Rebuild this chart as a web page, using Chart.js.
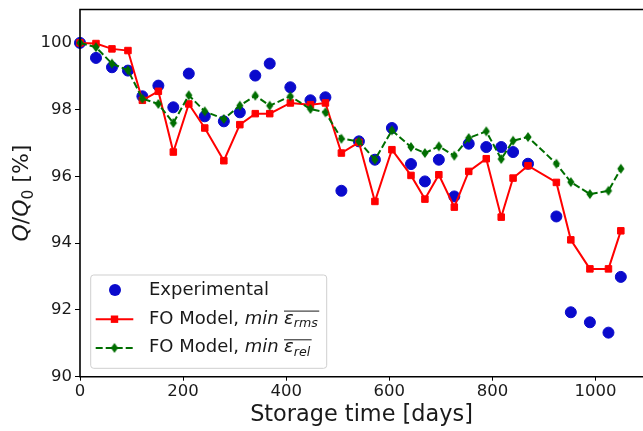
<!DOCTYPE html>
<html>
<head>
<meta charset="utf-8">
<title>Q/Q0 vs storage time</title>
<script src="https://cdn.jsdelivr.net/npm/chart.js@4.4.1/dist/chart.umd.min.js"></script>
<style>
    html, body { margin: 0; padding: 0; background: #fff; }
    #chart { display: block; }
</style>
</head>
<body>
<canvas id="chart" width="643" height="431"></canvas>
<script>
// storage days (same sampling for measurements and both model fits)
const storageDays = [0, 31, 62, 93, 121, 152, 181, 211, 242, 279, 310, 340, 368, 408, 447, 476, 507,
    541, 572, 605, 642, 669, 696, 726, 754, 788, 817, 840, 869, 924, 952, 989, 1025, 1049];

// Q/Q0 in %
const experimental = [100.0, 99.55, 99.27, 99.17, 98.40, 98.72, 98.07, 99.08, 97.80, 97.65, 97.92, 99.02,
    99.38, 98.67, 98.28, 98.37, 95.57, 97.05, 96.50, 97.45, 96.37, 95.85, 96.50, 95.40, 96.98, 96.88,
    96.88, 96.73, 96.38, 94.80, 91.93, 91.63, 91.32, 92.99];
const foModelRms = [100.0, 99.98, 99.82, 99.77, 98.28, 98.55, 96.73, 98.17, 97.45, 96.47, 97.55, 97.88,
    97.88, 98.20, 98.15, 98.20, 96.70, 97.02, 95.25, 96.80, 96.03, 95.32, 96.05, 95.08, 96.15, 96.53,
    94.78, 95.95, 96.32, 95.82, 94.10, 93.23, 93.23, 94.37];
const foModelRel = [100.0, 99.87, 99.38, 99.18, 98.33, 98.17, 97.60, 98.43, 97.95, 97.72, 98.12, 98.42,
    98.12, 98.40, 98.02, 97.92, 97.13, 97.05, 96.50, 97.38, 96.88, 96.70, 96.90, 96.62, 97.15, 97.35,
    96.52, 97.07, 97.18, 96.38, 95.83, 95.47, 95.57, 96.23];

const xTicks = [0, 200, 400, 600, 800, 1000];
const yTicks = [90, 92, 94, 96, 98, 100];

const FONT = '"DejaVu Sans", sans-serif';
const TEXT = '#1a1a1a';
const BLUE = '#0a0acc';
const RED = '#ff0000';
const GREEN = '#006e00';

function toPoints(ys) {
    return storageDays.map((d, i) => ({ x: d, y: ys[i] }));
}

// thin diamond marker (matplotlib 'd')
function thinDiamond(color) {
    const c = document.createElement('canvas');
    c.width = 10; c.height = 12;
    const g = c.getContext('2d');
    g.fillStyle = color;
    g.beginPath();
    g.moveTo(5, 1); g.lineTo(8.6, 6); g.lineTo(5, 11); g.lineTo(1.4, 6);
    g.closePath();
    g.fill();
    return c;
}
const diamond = thinDiamond(GREEN);

// draws a list of text runs left to right, returns the end x
function drawRuns(ctx, x, y, runs) {
    runs.forEach(r => {
        ctx.font = r.font;
        if (r.at != null) x = r.at;
        ctx.fillText(r.t, x, y + (r.dy || 0));
        r.x0 = x;
        x += ctx.measureText(r.t).width;
        r.x1 = x;
    });
    return x;
}
function runsWidth(ctx, runs) {
    let w = 0;
    runs.forEach(r => { ctx.font = r.font; w += ctx.measureText(r.t).width; });
    return w;
}

const reg = s => `${s}px ${FONT}`;
const ita = s => `italic ${s}px ${FONT}`;

function legendLabel(ctx, x, baseline, sub) {
    const runs = [
        { t: 'FO Model, ', font: reg(18) },
        { t: 'min', font: ita(18) },
        { t: 'ε', font: ita(18), at: x + 135 },
        { t: sub, font: ita(12.6), dy: 3.5 }
    ];
    drawRuns(ctx, x, baseline, runs);
    // overline above epsilon + subscript
    ctx.beginPath();
    ctx.lineWidth = 1;
    ctx.moveTo(runs[2].x0, baseline - 12.6);
    ctx.lineTo(runs[3].x1 + 1.5, baseline - 12.6);
    ctx.stroke();
}

const decorations = {
    id: 'decorations',
    afterDatasetsDraw(chart) {
        const { ctx, chartArea: a } = chart;
        ctx.save();
        // axes frame (right side falls outside the canvas)
        ctx.strokeStyle = '#000';
        ctx.lineWidth = 1.6;
        ctx.beginPath();
        ctx.moveTo(a.right + 2, a.top);
        ctx.lineTo(a.left, a.top);
        ctx.lineTo(a.left, a.bottom);
        ctx.lineTo(a.right + 2, a.bottom);
        ctx.stroke();
        ctx.restore();
    },
    afterDraw(chart) {
        const { ctx, chartArea: a } = chart;
        ctx.save();
        ctx.fillStyle = TEXT;
        ctx.strokeStyle = TEXT;
        ctx.textBaseline = 'alphabetic';

        // y axis title, rotated
        const yRuns = [
            { t: 'Q', font: ita(22) },
            { t: '/', font: reg(22) },
            { t: 'Q', font: ita(22) },
            { t: '0', font: reg(15.5), dy: 4.5 },
            { t: ' [%]', font: reg(22) }
        ];
        ctx.save();
        ctx.translate(28, (a.top + a.bottom) / 2);
        ctx.rotate(-Math.PI / 2);
        drawRuns(ctx, -runsWidth(ctx, yRuns) / 2, 0, yRuns);
        ctx.restore();

        // legend box
        const bx = 90.7, by = 275, bw = 236, bh = 93.3;
        ctx.beginPath();
        ctx.roundRect(bx, by, bw, bh, 3);
        ctx.fillStyle = 'rgba(255,255,255,0.8)';
        ctx.fill();
        ctx.strokeStyle = '#cfcfcf';
        ctx.lineWidth = 1;
        ctx.stroke();

        const rows = [295, 323.7, 352.4];
        const sx0 = 95.7, sx1 = 133.3, mx = 114.5, tx = 149;

        // Experimental
        ctx.fillStyle = BLUE;
        ctx.beginPath();
        ctx.arc(mx + 0.5, rows[0] - 5, 6, 0, Math.PI * 2);
        ctx.fill();

        // FO model, min rms
        ctx.strokeStyle = RED;
        ctx.lineWidth = 2;
        ctx.beginPath();
        ctx.moveTo(sx0, rows[1] - 4.5);
        ctx.lineTo(sx1, rows[1] - 4.5);
        ctx.stroke();
        ctx.fillStyle = RED;
        ctx.fillRect(mx - 3.7, rows[1] - 4.5 - 3.7, 7.4, 7.4);

        // FO model, min rel
        ctx.strokeStyle = GREEN;
        ctx.setLineDash([7, 3]);
        ctx.beginPath();
        ctx.moveTo(sx0, rows[2] - 4.5);
        ctx.lineTo(sx1, rows[2] - 4.5);
        ctx.stroke();
        ctx.setLineDash([]);
        ctx.drawImage(diamond, mx - 5, rows[2] - 4.5 - 6);

        ctx.fillStyle = TEXT;
        ctx.strokeStyle = TEXT;
        ctx.font = reg(18);
        ctx.fillText('Experimental', tx, rows[0]);
        legendLabel(ctx, tx, rows[1], 'rms');
        legendLabel(ctx, tx, rows[2], 'rel');
        ctx.restore();
    }
};

const tickFont = { family: FONT, size: 16.5 };

new Chart(document.getElementById('chart'), {
    type: 'scatter',
    data: {
        datasets: [
            {
                label: 'Experimental',
                data: toPoints(experimental),
                showLine: false,
                pointStyle: 'circle',
                pointRadius: 5.5,
                pointBorderWidth: 1,
                pointBackgroundColor: BLUE,
                pointBorderColor: BLUE,
                clip: false,
                order: 3
            },
            {
                label: 'FO Model, min rms',
                data: toPoints(foModelRms),
                showLine: true,
                borderColor: RED,
                borderWidth: 2,
                tension: 0,
                pointStyle: 'rect',
                pointRadius: 4.6,
                pointBorderWidth: 1,
                pointBackgroundColor: RED,
                pointBorderColor: RED,
                clip: false,
                order: 2
            },
            {
                label: 'FO Model, min rel',
                data: toPoints(foModelRel),
                showLine: true,
                borderColor: GREEN,
                borderWidth: 2,
                borderDash: [7, 3],
                tension: 0,
                pointStyle: diamond,
                pointRadius: 5,
                clip: false,
                order: 1
            }
        ]
    },
    options: {
        responsive: false,
        animation: false,
        devicePixelRatio: 1,
        layout: { autoPadding: false, padding: { top: 9.5, right: 0, bottom: 0, left: 0 } },
        plugins: {
            legend: { display: false },
            tooltip: { enabled: false }
        },
        scales: {
            x: {
                type: 'linear',
                min: 0,
                max: 1092,
                afterFit: s => { s.height = 54.3; s.paddingLeft = 0; s.paddingRight = 0; },
                afterBuildTicks: s => { s.ticks = xTicks.map(v => ({ value: v })); },
                ticks: {
                    font: tickFont, color: TEXT, padding: 1,
                    maxRotation: 0, autoSkip: false,
                    callback: v => String(v)
                },
                grid: { drawOnChartArea: false, tickLength: 4, tickColor: '#000', tickWidth: 1 },
                border: { display: false },
                title: {
                    display: true,
                    text: 'Storage time [days]',
                    font: { family: FONT, size: 22.4 },
                    color: TEXT,
                    padding: { top: 0, bottom: 2 }
                }
            },
            y: {
                type: 'linear',
                min: 90,
                max: 101,
                afterFit: s => { s.width = 80; s.paddingTop = 0; s.paddingBottom = 0; },
                afterBuildTicks: s => { s.ticks = yTicks.map(v => ({ value: v })); },
                ticks: {
                    font: tickFont, color: TEXT, padding: 3,
                    callback: v => String(v)
                },
                grid: { drawOnChartArea: false, tickLength: 5, tickColor: '#000', tickWidth: 1 },
                border: { display: false }
            }
        }
    },
    plugins: [decorations]
});
</script>
</body>
</html>
